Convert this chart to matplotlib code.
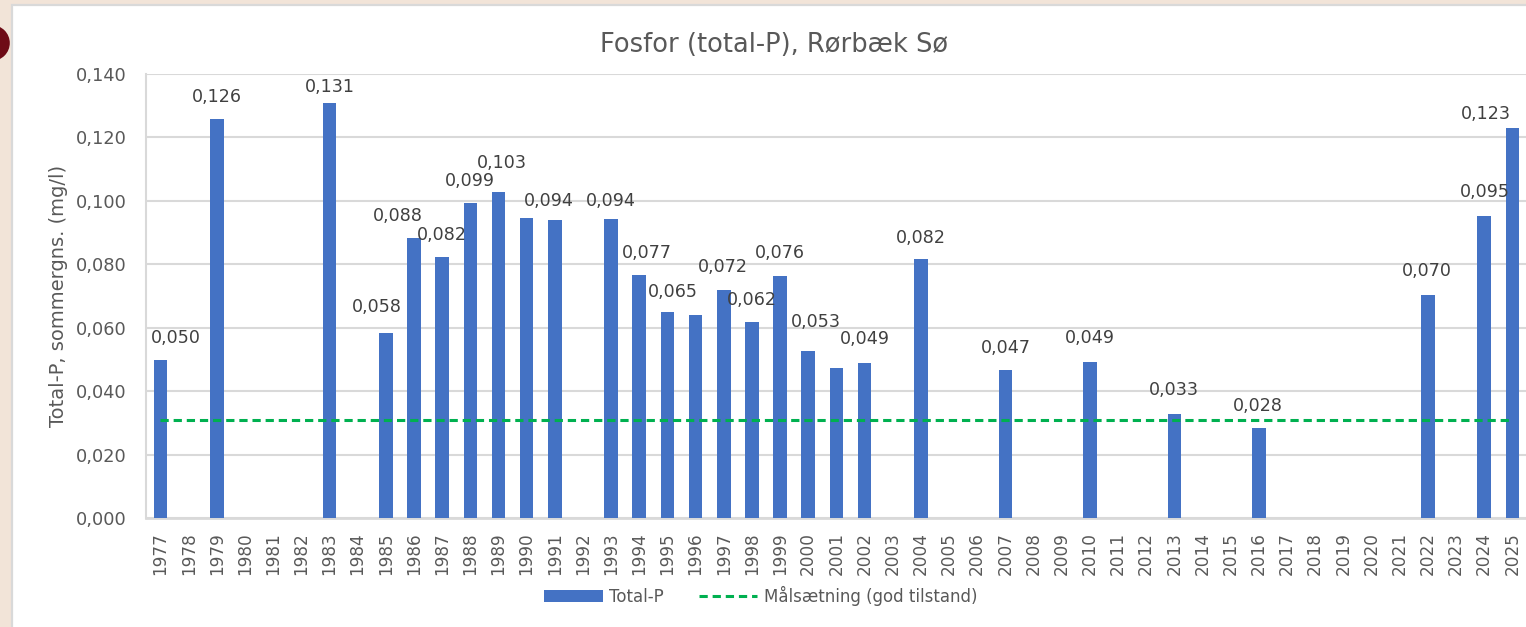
import matplotlib
matplotlib.use("Agg")
import matplotlib.pyplot as plt
from matplotlib.patches import Rectangle, Ellipse
from matplotlib.ticker import FuncFormatter, MultipleLocator
import numpy as np

# ---------------- data ----------------
years = list(range(1977, 2026))
total_p = {
    1977: 0.0498, 1979: 0.1258, 1983: 0.1310, 1985: 0.0582, 1986: 0.0882,
    1987: 0.0822, 1988: 0.0994, 1989: 0.1029, 1990: 0.0947, 1991: 0.0939,
    1993: 0.0942, 1994: 0.0766, 1995: 0.0648, 1996: 0.0639, 1997: 0.0718,
    1998: 0.0617, 1999: 0.0762, 2000: 0.0527, 2001: 0.0473, 2002: 0.0489,
    2004: 0.0817, 2007: 0.0467, 2010: 0.0492, 2013: 0.0328, 2016: 0.0284,
    2022: 0.0703, 2024: 0.0952, 2025: 0.1230,
}
target_value = 0.031
unlabeled_years = [1990, 1996, 2001]

title = "Fosfor (total-P), Rørbæk Sø"
ylabel = "Total-P, sommergns. (mg/l)"
series_names = ["Total-P", "Målsætning (god tilstand)"]

# label offsets (pixels, dx, dy) -- styling only
label_offsets = {
    1977: (15, 23), 1979: (0, 23), 1983: (0, 17), 1985: (-9, 27), 1986: (-16, 23),
    1987: (0, 23), 1988: (0, 23), 1989: (3, 30), 1991: (-6, 20), 1993: (0, 19),
    1994: (8, 23), 1995: (5, 21), 1997: (-1, 24), 1998: (0, 23), 1999: (0, 24),
    2000: (8, 30), 2002: (0, 25), 2004: (0, 22), 2007: (0, 23), 2010: (0, 25),
    2013: (0, 25), 2016: (-1, 23), 2022: (-1, 25), 2024: (1, 25), 2025: (-26, 15),
}

# ---------------- style ----------------
W, H, DPI = 1526, 627, 100
BAR = "#4472C4"
GREEN = "#00B050"
GRID = "#D9D9D9"
TXT = "#595959"
LBL = "#404040"
plt.rcParams['font.family'] = ['DejaVu Sans']

fig = plt.figure(figsize=(W / DPI, H / DPI), dpi=DPI)
fig.patch.set_facecolor("#F2E4D8")

# maroon fragment at left edge
fig.patches.append(Ellipse((-8 / W, 1 - 43 / H), 2 * 17.8 / W, 2 * 17.8 / H,
                           transform=fig.transFigure,
                           facecolor="#6E0B16", edgecolor="none", zorder=0))
# white chart panel
fig.patches.append(Rectangle((11.5 / W, -0.05), 1.1, 1 - 5 / H + 0.05,
                             transform=fig.transFigure, facecolor="white",
                             edgecolor=GRID, linewidth=1.6, zorder=1))

ax = fig.add_axes([146.4 / W, 1 - 518 / H, 1380 / W, 444 / H])
ax.set_facecolor("none")
ax.set_zorder(2)

x = np.arange(len(years))
vals = np.array([total_p.get(y, np.nan) for y in years])
bars = ax.bar(x, vals, width=0.48, color=BAR, zorder=3, label=series_names[0])
line, = ax.plot(x, [target_value] * len(years), color=GREEN, linewidth=2.2,
                dashes=(2.7, 1.6), dash_capstyle="butt", zorder=4,
                label=series_names[1])

for i, y in enumerate(years):
    v = total_p.get(y)
    if v is None or y in unlabeled_years:
        continue
    dx, dy = label_offsets.get(y, (0, 23))
    ax.annotate(f"{v:.3f}".replace(".", ","), xy=(i, v), xytext=(dx, dy - 1),
                textcoords="offset pixels", ha="center", va="center",
                fontsize=12.6, color=LBL, zorder=5)

ax.set_xlim(-0.5, len(years) - 0.5)
ax.set_ylim(0, 0.14)
ax.yaxis.set_major_locator(MultipleLocator(0.02))
ax.yaxis.set_major_formatter(FuncFormatter(lambda v, p: f"{v:.3f}".replace(".", ",")))
ax.set_xticks(x)
ax.set_xticklabels([str(y) for y in years], rotation=90, fontsize=12.2, color=TXT)
ax.tick_params(axis="y", labelsize=12.8, labelcolor=TXT, length=0, pad=14)
ax.tick_params(axis="x", length=0, pad=10)
ax.grid(axis="y", color=GRID, linewidth=1.5, zorder=0)
ax.set_axisbelow(True)
for s in ["top", "right"]:
    ax.spines[s].set_visible(False)
ax.spines["left"].set_color(GRID)
ax.spines["left"].set_linewidth(1.5)
ax.spines["bottom"].set_color(GRID)
ax.spines["bottom"].set_linewidth(2)

ax.set_ylabel(ylabel, fontsize=14, color=TXT, labelpad=6)
fig.suptitle(title, x=774 / W, y=1 - 45 / H, va="center", ha="center",
             fontsize=18.5, color=TXT)

leg = ax.legend([bars, line], series_names, loc="center",
                bbox_to_anchor=(761 / W, 1 - 596 / H),
                bbox_transform=fig.transFigure, ncol=2, frameon=False,
                fontsize=12, handlelength=3.5, handletextpad=0.4,
                columnspacing=2.1, borderpad=0)
for t in leg.get_texts():
    t.set_color(TXT)

fig.savefig("out.png", dpi=DPI, facecolor=fig.get_facecolor())
